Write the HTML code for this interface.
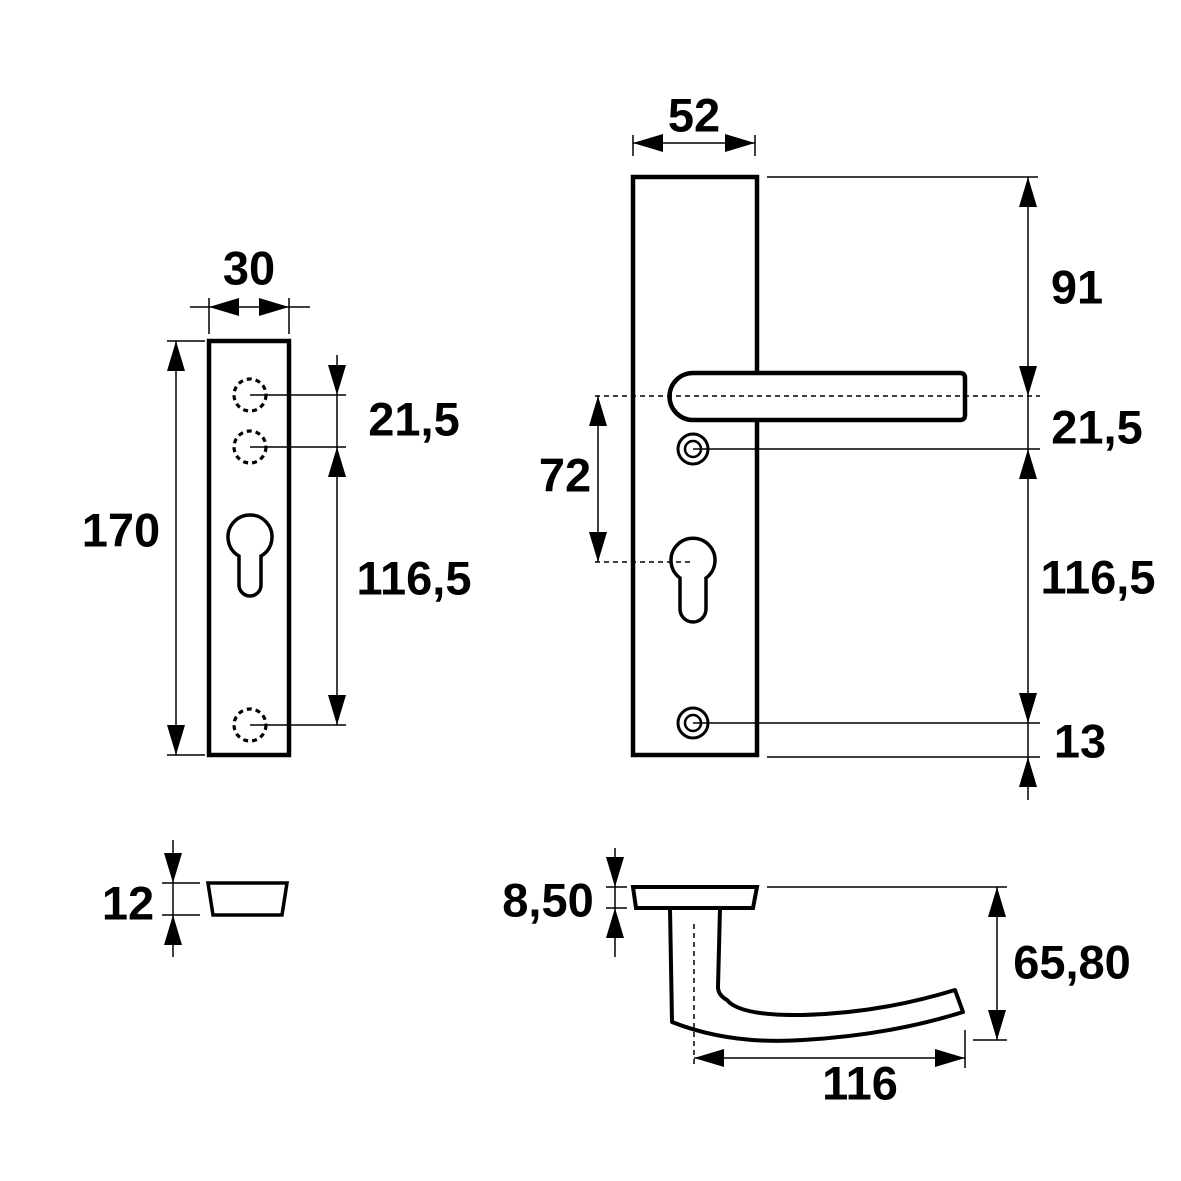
<!DOCTYPE html>
<html><head><meta charset="utf-8"><style>
html,body{margin:0;padding:0;background:#fff}
svg{display:block}
text{font-family:"Liberation Sans",Arial,sans-serif;font-weight:bold;font-size:47px;fill:#000;text-anchor:middle;dominant-baseline:central}
</style></head><body>
<svg width="1181" height="1181" viewBox="0 0 1181 1181" xmlns="http://www.w3.org/2000/svg">
<defs>
<polygon id="aU" points="0,0 -9,30 9,30"/>
<polygon id="aD" points="0,0 -9,-30 9,-30"/>
<polygon id="aL" points="0,0 30,-9 30,9"/>
<polygon id="aR" points="0,0 -30,-9 -30,9"/>
</defs>
<g stroke="#000" fill="none">
<!-- LEFT PLATE -->
<rect x="209" y="341" width="80" height="414" stroke-width="4.5"/>
<g stroke-width="3.2" stroke-dasharray="5,4">
<circle cx="250" cy="395" r="16"/>
<circle cx="250" cy="447" r="16"/>
<circle cx="250" cy="725" r="16"/>
</g>
<path d="M239,556 A22,22 0 1 1 261,556 L261,585 A11,11 0 0 1 239,585 Z" stroke-width="3.5"/>
<g stroke-width="1.5">
<line x1="190" y1="307" x2="310" y2="307"/>
<line x1="209" y1="298" x2="209" y2="334"/>
<line x1="289" y1="298" x2="289" y2="334"/>
<line x1="176" y1="341" x2="176" y2="755"/>
<line x1="167" y1="341" x2="205" y2="341"/>
<line x1="167" y1="755" x2="205" y2="755"/>
<line x1="250" y1="395" x2="346" y2="395"/>
<line x1="250" y1="447" x2="346" y2="447"/>
<line x1="250" y1="725" x2="346" y2="725"/>
<line x1="337" y1="355" x2="337" y2="725"/>
<line x1="173" y1="840" x2="173" y2="957"/>
<line x1="162" y1="883" x2="200" y2="883"/>
<line x1="162" y1="915" x2="200" y2="915"/>
</g>
<polygon points="208,883 287,883 282,915 213,915" stroke-width="3.5"/>

<!-- RIGHT PLATE -->
<path d="M757,373 V177 H633 V755 H757 V420" stroke-width="4.5"/>
<path d="M693,373 H960 Q965,373 965,378 V415 Q965,420 960,420 H693 A23.5,23.5 0 0 1 693,373 Z" stroke-width="4.5" fill="#fff"/>
<circle cx="693" cy="449" r="15" stroke-width="3"/>
<circle cx="693" cy="449" r="8" stroke-width="2.5"/>
<circle cx="693" cy="723" r="15" stroke-width="3"/>
<circle cx="693" cy="723" r="8" stroke-width="2.5"/>
<path d="M680,578 A22,22 0 1 1 706,578 L706,609 A13,13 0 0 1 680,609 Z" stroke-width="3.5"/>
<g stroke-width="1.5">
<line x1="633" y1="143" x2="755" y2="143"/>
<line x1="633" y1="135" x2="633" y2="156"/>
<line x1="755" y1="135" x2="755" y2="156"/>
<line x1="767" y1="177" x2="1038" y2="177"/>
<line x1="693" y1="449" x2="1040" y2="449"/>
<line x1="693" y1="723" x2="1040" y2="723"/>
<line x1="767" y1="757" x2="1040" y2="757"/>
<line x1="1028" y1="177" x2="1028" y2="800"/>
<line x1="598" y1="396" x2="598" y2="562"/>
</g>
<g stroke-width="1.5" stroke-dasharray="5,4">
<line x1="595" y1="396" x2="1040" y2="396"/>
<line x1="595" y1="562" x2="693" y2="562"/>
</g>

<!-- BOTTOM HANDLE -->
<polygon points="633,887 757,887 753,908 636,908" stroke-width="4"/>
<path d="M670,908 L672,1022 Q730,1045 803,1040 Q890,1035 963,1012 L955,990 Q880,1013 803,1015 Q740,1016 727,1000 Q718,995 718,987 L720,908" stroke-width="4" stroke-linejoin="round"/>
<g stroke-width="1.5">
<line x1="694" y1="1058" x2="965" y2="1058"/>
<line x1="965" y1="1030" x2="965" y2="1068"/>
<line x1="767" y1="887" x2="1007" y2="887"/>
<line x1="973" y1="1040" x2="1007" y2="1040"/>
<line x1="997" y1="887" x2="997" y2="1040"/>
<line x1="615" y1="848" x2="615" y2="957"/>
<line x1="606" y1="887" x2="627" y2="887"/>
<line x1="606" y1="908" x2="627" y2="908"/>
</g>
<line x1="694" y1="924" x2="694" y2="1068" stroke-width="1.5" stroke-dasharray="5,4"/>
</g>

<g fill="#000">
<use href="#aL" x="209" y="307"/><use href="#aR" x="289" y="307"/>
<use href="#aU" x="176" y="341"/><use href="#aD" x="176" y="755"/>
<use href="#aD" x="337" y="395"/><use href="#aU" x="337" y="447"/><use href="#aD" x="337" y="725"/>
<use href="#aD" x="173" y="883"/><use href="#aU" x="173" y="915"/>
<use href="#aL" x="633" y="143"/><use href="#aR" x="755" y="143"/>
<use href="#aU" x="1028" y="177"/><use href="#aD" x="1028" y="396"/>
<use href="#aU" x="1028" y="449"/><use href="#aD" x="1028" y="723"/>
<use href="#aU" x="1028" y="757"/>
<use href="#aU" x="598" y="396"/><use href="#aD" x="598" y="562"/>
<use href="#aL" x="694" y="1058"/><use href="#aR" x="965" y="1058"/>
<use href="#aU" x="997" y="887"/><use href="#aD" x="997" y="1040"/>
<use href="#aD" x="615" y="887"/><use href="#aU" x="615" y="908"/>
</g>

<text x="249" y="268">30</text>
<text x="121" y="530">170</text>
<text x="414" y="419">21,5</text>
<text x="414" y="578">116,5</text>
<text x="128" y="903">12</text>
<text x="694" y="115">52</text>
<text x="1077" y="287">91</text>
<text x="1097" y="427">21,5</text>
<text x="1098" y="577">116,5</text>
<text x="1080" y="741">13</text>
<text x="565" y="475">72</text>
<text x="548" y="900">8,50</text>
<text x="1072" y="962">65,80</text>
<text x="860" y="1083">116</text>
</svg>
</body></html>
